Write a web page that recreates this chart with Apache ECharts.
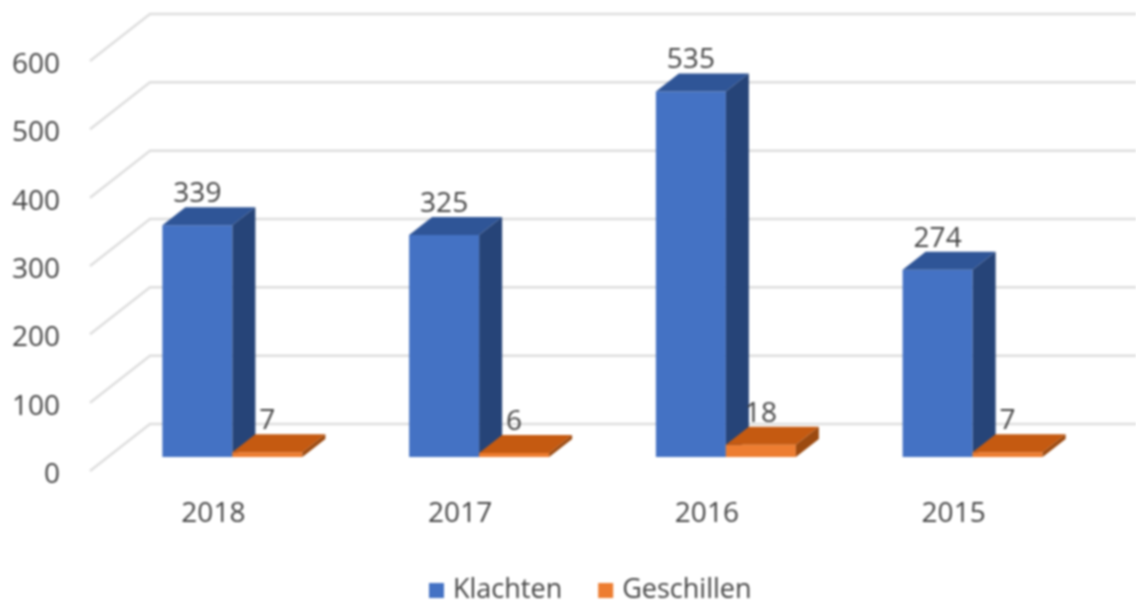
<!DOCTYPE html>
<html><head><meta charset="utf-8">
<style>html,body{margin:0;padding:0;background:#fff}#c{width:1136px;height:606px;filter:blur(0.8px)}</style>
<script src="https://cdn.jsdelivr.net/npm/echarts@6/dist/echarts.min.js"></script>
</head><body><div id="c"></div>
<script>
const categories = ['2018','2017','2016','2015'];
const klachten = [339,325,535,274];
const geschillen = [7,6,18,7];
const yTicks = [0,100,200,300,400,500,600];

const FONT = '"Open Sans", sans-serif';
const TXT = '#454545';
const wallDX = 60, wallDY = 47;     // front plane to back wall
const barDX = 19, barDY = 14;       // front plane to bar front
const depthDX = 23, depthDY = 18;   // bar depth
const barRatio = 70 / 246.75;

function pg(points, fill){ return {type:'polygon', shape:{points}, style:{fill}}; }

function barRenderer(side, colors){
  return function(params, api){
    const v = api.value(1);
    const base = api.coord([api.value(0), 0]);
    const top = api.coord([api.value(0), v]);
    const w = api.size([1,0])[0] * barRatio;
    const l = base[0] + barDX + (side < 0 ? -w : 0), r = l + w;
    const b = base[1] - barDY, t = top[1] - barDY;
    const dx = depthDX, dy = depthDY;
    return {type:'group', children:[
      pg([[l,t],[r,t],[r,b],[l,b]], colors[0]),
      pg([[l,t],[r,t],[r+dx,t-dy],[l+dx,t-dy]], colors[1]),
      pg([[r,t],[r+dx,t-dy],[r+dx,b-dy],[r,b]], colors[2]),
      {type:'text', z2:10, style:{text:String(v), x:(l+r)/2, y:t-dy-13,
        textAlign:'center', textVerticalAlign:'middle', fill:TXT, font:'28px '+FONT}}
    ]};
  };
}

function wallRenderer(params, api){
  const v = api.value(0);
  const cs = params.coordSys;
  const y = api.coord([0, v])[1];
  return {type:'polyline', shape:{points:[[cs.x,y],[cs.x+wallDX,y-wallDY],[cs.x+cs.width+wallDX,y-wallDY]]},
    style:{fill:null, stroke:'#dedede', lineWidth:2.5}};
}

const chart = echarts.init(document.getElementById('c'));
chart.setOption({
  animation:false,
  backgroundColor:'#fff',
  grid:{left:90, top:61, width:987, height:410},
  xAxis:{type:'category', data:categories, axisLine:{show:false}, axisTick:{show:false},
    axisLabel:{color:TXT, fontFamily:FONT, fontSize:28, margin:29}},
  yAxis:{type:'value', min:0, max:600, interval:100, splitLine:{show:false}, axisLine:{show:false}, axisTick:{show:false},
    axisLabel:{color:TXT, fontFamily:FONT, fontSize:28, margin:30, verticalAlign:'top', lineHeight:8}},
  legend:{data:['Klachten','Geschillen'], left:424, top:572, icon:'rect', itemWidth:15, itemHeight:15, itemGap:36,
    textStyle:{color:TXT, fontFamily:FONT, fontSize:27, padding:[0,0,0,4]}},
  series:[
    {type:'custom', name:'wall', renderItem:wallRenderer, data:yTicks.map(v=>[v]), encode:{y:0}, silent:true, z:1},
    {type:'custom', name:'Klachten', renderItem:barRenderer(-1,['#4472C4','#2F5597','#264478']),
      data:klachten.map((v,i)=>[i,v]), encode:{x:0,y:1}, itemStyle:{color:'#4472C4'}, z:2},
    {type:'custom', name:'Geschillen', renderItem:barRenderer(1,['#ED7D31','#C55A11','#9C4A10']),
      data:geschillen.map((v,i)=>[i,v]), encode:{x:0,y:1}, itemStyle:{color:'#ED7D31'}, z:3}
  ]
});
</script></body></html>
